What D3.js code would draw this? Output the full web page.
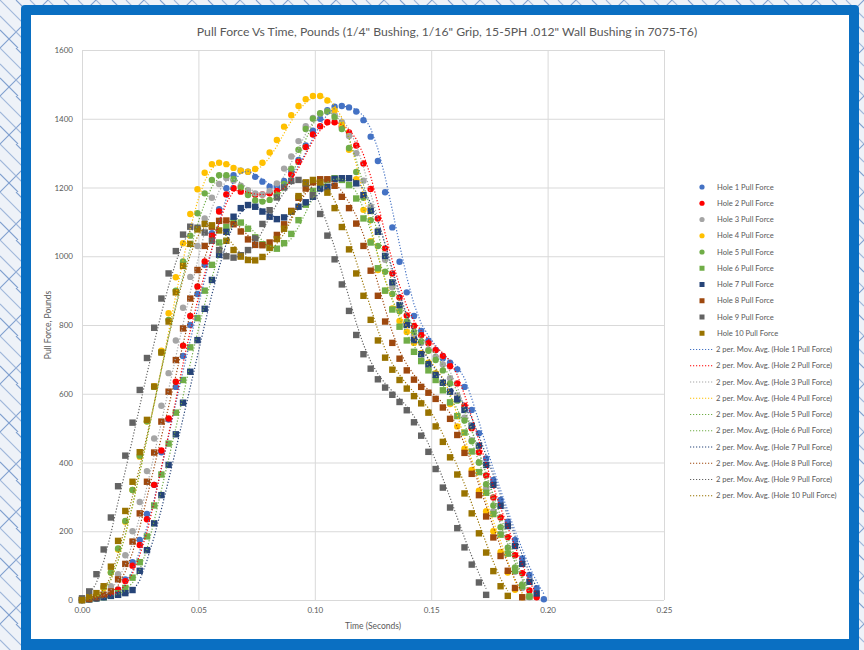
<!DOCTYPE html>
<html>
<head>
<meta charset="utf-8">
<script src="https://cdn.jsdelivr.net/npm/d3@7"></script>
<style>
  body { margin: 0; background: #fff; }
  svg { display: block; }
  text { font-family: Lato, "Open Sans", sans-serif; fill: #595959; }
</style>
</head>
<body>
<div id="chart"></div>
<script>
// sample interval of the pull tester, seconds
const sampleStep = 0.0031;

const seriesNames = ["Hole 1", "Hole 2", "Hole 3", "Hole 4", "Hole 5",
                     "Hole 6", "Hole 7", "Hole 8", "Hole 9", "Hole 10"];

// pull force in pounds, one value per sample
const hole1 = [0,2,4,8,15,30,60,110,175,250,335,430,525,620,710,800,890,975,1067,1137,1198,1236,1249,1246,1231,1217,1202,1200,1219,1246,1280,1322,1365,1400,1425,1435,1437,1433,1421,1396,1348,1277,1186,1084,984,895,826,783,754,727,703,690,671,620,553,485,412,349,291,228,175,121,73,34,2];
const hole2 = [0,2,5,10,18,30,55,100,160,235,335,435,528,635,740,826,912,985,1060,1130,1180,1198,1188,1183,1179,1180,1183,1190,1205,1238,1275,1318,1354,1378,1390,1390,1377,1360,1322,1270,1196,1110,1023,950,880,828,797,770,747,727,710,680,630,565,500,430,362,298,240,183,130,78,28,8];
const hole3 = [0,3,8,18,40,75,130,200,285,375,470,565,660,755,850,940,1030,1110,1170,1210,1228,1220,1205,1192,1183,1180,1190,1212,1255,1290,1335,1378,1402,1415,1421,1412,1390,1350,1300,1220,1145,1075,990,910,850,805,770,748,728,708,685,645,595,530,465,400,325,258,192,135,82,35,8];
const hole4 = [0,5,15,34,80,147,228,320,417,519,622,725,834,939,1038,1123,1195,1243,1268,1272,1268,1257,1249,1246,1254,1272,1302,1338,1377,1410,1437,1457,1466,1466,1453,1425,1382,1310,1224,1135,1044,960,900,848,812,780,748,718,690,660,632,570,505,440,378,318,258,200,140,80,30,8];
const hole5 = [0,4,12,39,80,150,230,320,420,520,620,720,815,900,985,1060,1125,1183,1222,1236,1236,1225,1200,1178,1162,1159,1164,1180,1210,1255,1310,1370,1400,1416,1421,1405,1370,1315,1245,1170,1105,1030,955,890,840,810,780,752,725,698,668,630,580,522,462,400,337,275,212,152,95,45,12];
const hole6 = [0,2,5,8,12,20,35,65,110,185,275,365,455,545,640,735,820,900,975,1040,1085,1100,1098,1080,1055,1035,1024,1022,1038,1065,1105,1150,1190,1210,1222,1227,1222,1207,1168,1110,1040,965,900,845,795,755,722,695,668,640,610,575,535,487,432,372,312,250,190,135,85,40,10];
const hole7 = [0,2,5,8,12,15,20,29,85,145,223,305,393,482,574,664,756,847,931,1004,1071,1115,1140,1149,1144,1130,1115,1108,1113,1130,1144,1157,1173,1197,1202,1225,1227,1227,1212,1178,1132,1071,1001,924,858,800,756,715,686,655,632,606,584,553,507,449,393,335,274,215,157,105,53,19];
const hole8 = [0,3,8,15,25,60,105,170,252,344,429,519,606,698,790,877,960,1030,1086,1103,1104,1093,1072,1049,1033,1032,1040,1062,1093,1132,1170,1197,1215,1224,1224,1205,1173,1140,1095,1030,958,885,810,748,702,668,641,620,603,585,560,527,480,428,367,305,243,182,128,85,35,8];
const hole9 = [5,25,75,147,240,331,420,516,611,704,792,877,950,1015,1063,1086,1083,1069,1045,1018,1000,996,1003,1018,1052,1094,1134,1171,1200,1219,1222,1212,1178,1123,1060,991,918,841,771,715,673,642,618,597,576,552,517,478,431,381,327,269,209,153,103,51,15];
const hole10 = [0,8,20,40,97,172,259,344,430,524,621,720,810,895,972,1036,1078,1094,1090,1075,1045,1018,999,989,988,998,1025,1050,1080,1130,1175,1215,1222,1215,1185,1140,1085,1020,950,885,815,755,705,670,640,615,593,572,545,505,460,415,365,310,252,194,138,84,40,12];

const xTicks = [0, 0.05, 0.10, 0.15, 0.20, 0.25];
const yTicks = [0, 200, 400, 600, 800, 1000, 1200, 1400, 1600];

const allHoles = [hole1, hole2, hole3, hole4, hole5, hole6, hole7, hole8, hole9, hole10];
const colors = ["#4472C4", "#FF0000", "#A5A5A5", "#FFC000", "#70AD47",
                "#70AD47", "#264478", "#9E480E", "#636363", "#997300"];
const shapes = ["circle", "circle", "circle", "circle", "circle",
                "square", "square", "square", "square", "square"];

const W = 864, H = 650;
const svg = d3.select("#chart").append("svg")
  .attr("width", W).attr("height", H);

// sketchy blue background behind the frame
const defs = svg.append("defs");
const pat = defs.append("pattern").attr("id", "bg")
  .attr("width", 48).attr("height", 48).attr("patternUnits", "userSpaceOnUse");
pat.append("rect").attr("width", 48).attr("height", 48).attr("fill", "#eef2f8");
[[0, 48, 48, 0], [0, 16, 32, 48], [16, 0, 48, 32], [0, 0, 48, 48], [0, 30, 18, 48], [30, 0, 48, 18]].forEach(function(l, i) {
  pat.append("line").attr("x1", l[0]).attr("y1", l[1]).attr("x2", l[2]).attr("y2", l[3])
    .attr("stroke", i % 2 ? "#9fb6da" : "#7f9fcf").attr("stroke-width", 1.1);
});
svg.append("rect").attr("width", W).attr("height", H).attr("fill", "url(#bg)");

// blue frame + white chart area
svg.append("rect").attr("x", 21).attr("y", 5).attr("width", 838).attr("height", 660)
  .attr("rx", 4).attr("fill", "#0A6FC2");
svg.append("rect").attr("x", 31).attr("y", 15).attr("width", 818).attr("height", 624)
  .attr("fill", "#fff");

const plot = {left: 82, right: 664, top: 50, bottom: 600};
const x = d3.scaleLinear().domain([0, 0.25]).range([plot.left, plot.right]);
const y = d3.scaleLinear().domain([0, 1600]).range([plot.bottom, plot.top]);

// Title
svg.append("text")
  .attr("x", 447).attr("y", 36)
  .attr("text-anchor", "middle")
  .style("font-size", "12.2px")
  .text("Pull Force Vs Time, Pounds (1/4\" Bushing, 1/16\" Grip, 15-5PH .012\" Wall Bushing in 7075-T6)");

// axes with grid lines
const gx = svg.append("g")
  .attr("transform", "translate(0," + plot.bottom + ")")
  .call(d3.axisBottom(x).tickValues(xTicks).tickFormat(d3.format(".2f"))
        .tickSize(-(plot.bottom - plot.top)).tickPadding(7));
const gy = svg.append("g")
  .attr("transform", "translate(" + plot.left + ",0)")
  .call(d3.axisLeft(y).tickValues(yTicks).tickFormat(d3.format("d"))
        .tickSize(-(plot.right - plot.left)).tickPadding(7));
[gx, gy].forEach(function(g) {
  g.select(".domain").remove();
  g.selectAll(".tick line").attr("stroke", "#d9d9d9");
  g.selectAll(".tick text").style("font-size", "8px").attr("fill", "#595959")
    .style("font-family", "Lato, 'Open Sans', sans-serif");
});
gy.selectAll(".tick text").attr("dx", "-2");

svg.append("text")
  .attr("x", 373).attr("y", 629)
  .attr("text-anchor", "middle")
  .style("font-size", "8.5px")
  .text("Time (Seconds)");
svg.append("text")
  .attr("transform", "translate(51,325) rotate(-90)")
  .attr("text-anchor", "middle")
  .style("font-size", "8.5px")
  .text("Pull Force, Pounds");

// data points
const marks = svg.append("g");
allHoles.forEach(function(vals, s) {
  const pts = vals.map(function(v, i) { return {t: i * sampleStep, v: v}; });
  const g = marks.append("g");
  if (shapes[s] === "circle") {
    g.selectAll("circle").data(pts).enter().append("circle")
      .attr("cx", function(d) { return x(d.t); })
      .attr("cy", function(d) { return y(d.v); })
      .attr("r", 3.2)
      .attr("fill", colors[s]);
  } else {
    g.selectAll("rect").data(pts).enter().append("rect")
      .attr("x", function(d) { return x(d.t) - 3.2; })
      .attr("y", function(d) { return y(d.v) - 3.2; })
      .attr("width", 6.4).attr("height", 6.4)
      .attr("fill", colors[s]);
  }
});

// 2 period moving average trendlines
const line = d3.line()
  .x(function(d) { return x(d.t); })
  .y(function(d) { return y(d.v); });
allHoles.forEach(function(vals, s) {
  const avg = [];
  for (let i = 1; i < vals.length; i++) {
    avg.push({t: i * sampleStep, v: (vals[i - 1] + vals[i]) / 2});
  }
  svg.append("path").datum(avg)
    .attr("d", line)
    .attr("fill", "none")
    .attr("stroke", colors[s])
    .attr("stroke-width", 1.2)
    .attr("stroke-dasharray", "1.2,1.8");
});

// Legend
const legend = svg.append("g");
const legendY = 187, legendStep = 16.25;
seriesNames.forEach(function(name, s) {
  const ly = legendY + s * legendStep;
  if (shapes[s] === "circle") {
    legend.append("circle").attr("cx", 702).attr("cy", ly).attr("r", 2.6).attr("fill", colors[s]);
  } else {
    legend.append("rect").attr("x", 699.5).attr("y", ly - 2.5)
      .attr("width", 5).attr("height", 5).attr("fill", colors[s]);
  }
  legend.append("text").attr("x", 717).attr("y", ly).attr("dy", "0.35em")
    .style("font-size", "7.6px").text(name + " Pull Force");
});
seriesNames.forEach(function(name, s) {
  const ly = legendY + (s + 10) * legendStep;
  legend.append("line").attr("x1", 690).attr("x2", 713).attr("y1", ly).attr("y2", ly)
    .attr("stroke", colors[s]).attr("stroke-width", 1.2).attr("stroke-dasharray", "1.2,1.8");
  legend.append("text").attr("x", 716).attr("y", ly).attr("dy", "0.35em")
    .style("font-size", "7.6px").text("2 per. Mov. Avg. (" + name + " Pull Force)");
});
</script>
</body>
</html>
